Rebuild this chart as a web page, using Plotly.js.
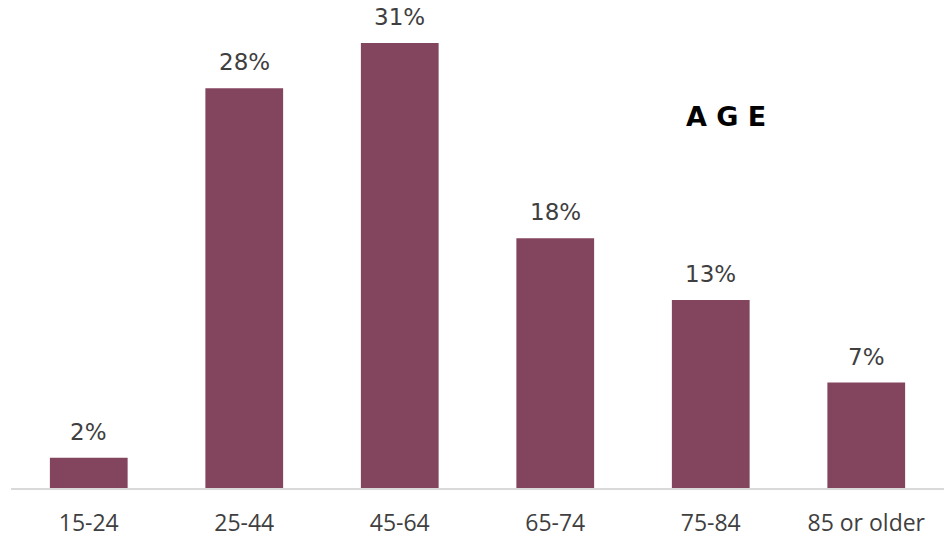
<!DOCTYPE html>
<html>
<head>
<meta charset="utf-8">
<script src="https://cdn.plot.ly/plotly-3.0.1.min.js"></script>
<style>
  html, body { margin: 0; padding: 0; background: #ffffff; }
  #chart { width: 947px; height: 539px; }
</style>
</head>
<body>
<div id="chart"></div>
<script>
// Data
const categories = ["15-24", "25-44", "45-64", "65-74", "75-84", "85 or older"];
const shares = [2.1, 27.85, 31.0, 17.4, 13.1, 7.35];          // bar heights (%)
const shareLabels = ["2%", "28%", "31%", "18%", "13%", "7%"]; // printed labels
const chartTitle = "A G E";

const barColor = "#83455D";
const labelColor = "#3f3f3f";

const trace = {
  type: "bar",
  x: categories,
  y: shares,
  marker: { color: barColor, line: { width: 0 } },
  hoverinfo: "skip"
};

const valueAnnotations = categories.map((c, i) => ({
  x: c, y: shares[i], xref: "x", yref: "y",
  text: shareLabels[i], showarrow: false,
  yanchor: "middle", yshift: 26,
  font: { family: "DejaVu Sans", size: 23, color: labelColor }
}));

const layout = {
  width: 947, height: 539,
  margin: { l: 11, r: 3, t: 0, b: 51, pad: 0 },
  paper_bgcolor: "#ffffff", plot_bgcolor: "#ffffff",
  bargap: 0.5,
  showlegend: false,
  xaxis: {
    type: "category",
    range: [-0.5, 5.5],
    showline: true, linecolor: "#d9d9d9", linewidth: 2,
    showgrid: false, zeroline: false,
    ticks: "outside", ticklen: 13, tickcolor: "rgba(0,0,0,0)",
    tickfont: { family: "Open Sans", size: 23, color: labelColor },
    fixedrange: true
  },
  yaxis: {
    range: [0, 34.0],
    visible: false, showgrid: false, zeroline: false,
    fixedrange: true
  },
  annotations: valueAnnotations.concat([{
    xref: "paper", yref: "paper",
    x: (726 - 11) / 933, y: (539 - 51 - 116) / 488,
    xanchor: "center", yanchor: "middle",
    text: "<b>" + chartTitle + "</b>", showarrow: false,
    font: { family: "DejaVu Sans", size: 27, color: "#000000" }
  }])
};

Plotly.newPlot("chart", [trace], layout, { staticPlot: true, displayModeBar: false });
</script>
</body>
</html>
